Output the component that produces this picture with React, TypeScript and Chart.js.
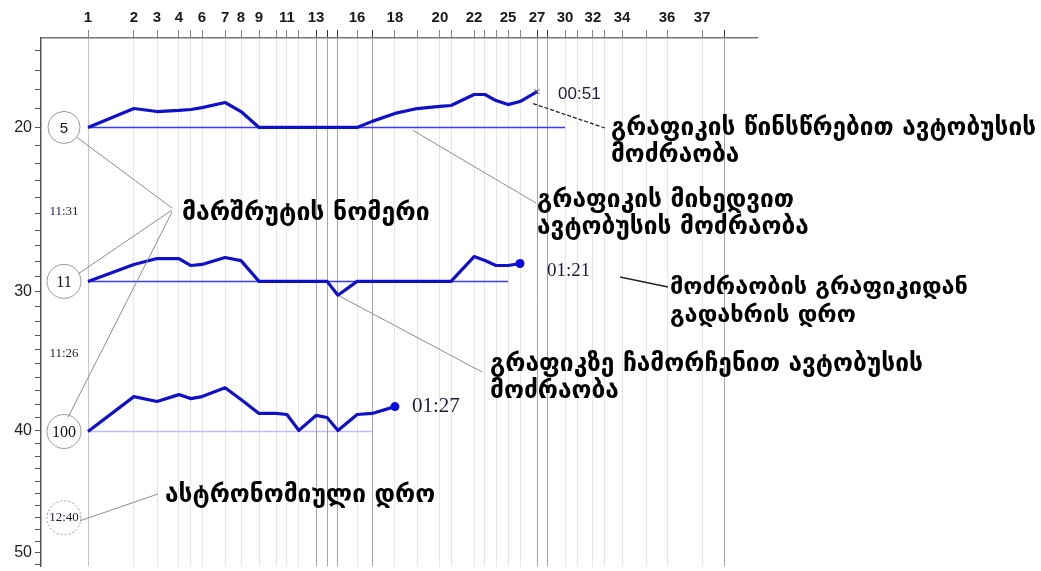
import React, { useEffect, useRef } from 'react';
import { Chart, registerables, LinearScale } from 'chart.js';

Chart.register(...registerables);

// Square-root scale: the diagram's vertical axis grows with sqrt of the value
class SqrtScale extends LinearScale {
  static id = 'sqrt';
  static defaults = LinearScale.defaults;
  getPixelForValue(value: number) {
    if (value === null || value === undefined || isNaN(value)) return NaN;
    const a = Math.sqrt(this.min), b = Math.sqrt(this.max);
    return this.getPixelForDecimal((Math.sqrt(Math.max(0, value)) - a) / (b - a));
  }
  getValueForPixel(pixel: number) {
    const a = Math.sqrt(this.min), b = Math.sqrt(this.max);
    const s = a + this.getDecimalForPixel(pixel) * (b - a);
    return s * s;
  }
}
Chart.register(SqrtScale);

// ---- data ----
const stopLabels = ['1','2','3','4','','6','7','8','9','','11','','13','','','16','','18','','20','','22','','','25','','27','','30','','32','','34','','36','37',''];
const stopKm = [0,1.53,2.30,3.03,3.43,3.80,4.57,5.10,5.70,6.27,6.63,7.03,7.60,7.97,8.33,8.97,9.47,10.23,10.97,11.73,12.10,12.87,13.23,13.60,14.00,14.40,14.97,15.30,15.90,16.30,16.83,17.23,17.80,18.60,19.30,20.47,21.20];
const darkStops = [12, 13, 14, 16, 26, 27, 36];

const yMinorTicks = [16,17,18,19,20,21,22,23,24,25,26,27,28,29,30,31,32,33,34,35,36,37,38,39,40,41,42,43,44,45,46,47,48,49,50,51];
const yLabelValues = [20, 30, 40, 50];

const routeNames = ['5', '11', '100'];
const route5Actual = [20.00,18.98,19.14,19.08,19.03,18.93,18.66,19.14,20.00,20.00,20.00,20.00,20.00,20.00,20.00,20.00,19.67,19.24,18.98,18.87,18.82,18.24,18.24,18.56,18.77,18.61,18.09];
const route11Actual = [29.30,28.19,27.81,27.81,28.26,28.19,27.74,27.94,29.30,29.30,29.30,29.30,29.30,29.30,30.23,29.30,29.30,29.30,29.30,29.30,29.30,27.68,27.94,28.26,28.26,28.13];
const route100Actual = [40.07,37.42,37.79,37.27,37.57,37.42,36.76,37.64,38.69,38.69,38.77,39.99,38.84,39.00,39.99,38.77,38.69,38.17];
const planLevel = [20.00, 29.30, 40.07];
const planStartStop = [0, 0, 0];
const planEndStop = [28, 24, 16];
const deviationLabels = ['00:51', '01:21', '01:27'];
const sideTimes = ['11:31', '11:26'];
const sideTimeLevels = [24.88, 34.29];
const astroTime = '12:40';
const astroTimeLevel = 47.03;

const actualSeries = [route5Actual, route11Actual, route100Actual];

const LINE_BLUE = '#1010c8';

const annotationPlugin = {
  id: 'busAnnotations',
  afterDraw(chart: any) {
    const ctx = chart.ctx as CanvasRenderingContext2D;
    const xs = chart.scales.x, ys = chart.scales.y;
    ctx.save();

    const line = (x1: number, y1: number, x2: number, y2: number, color: string, w = 1, dash: number[] = []) => {
      ctx.beginPath();
      ctx.setLineDash(dash);
      ctx.strokeStyle = color;
      ctx.lineWidth = w;
      ctx.moveTo(x1, y1);
      ctx.lineTo(x2, y2);
      ctx.stroke();
      ctx.setLineDash([]);
    };
    const circle = (cx: number, cy: number, r: number, dash: number[] = []) => {
      ctx.beginPath();
      ctx.setLineDash(dash);
      ctx.strokeStyle = '#9a9a9a';
      ctx.lineWidth = 1;
      ctx.arc(cx, cy, r, 0, Math.PI * 2);
      ctx.stroke();
      ctx.setLineDash([]);
    };
    const text = (t: string, x: number, y: number, font: string, color = '#1b1b3a', align: CanvasTextAlign = 'left') => {
      ctx.font = font;
      ctx.fillStyle = color;
      ctx.textAlign = align;
      ctx.textBaseline = 'middle';
      ctx.fillText(t, x, y);
    };

    // connectors (under text)
    const gray = '#8c8c8c';
    const c5y = ys.getPixelForValue(planLevel[0]);
    const c11y = ys.getPixelForValue(planLevel[1]);
    const c100y = ys.getPixelForValue(planLevel[2]);
    const astroY = ys.getPixelForValue(astroTimeLevel);
    line(77, c5y + 10, 172, 208, gray);
    line(79, c11y - 8, 172, 210, gray);
    line(68, c100y - 14, 172, 212, gray);
    line(80, astroY + 3, 158, 494, gray);
    line(413, c5y + 3, 536, 203, gray);
    const dipX = xs.getPixelForValue(stopKm[14]);
    const dipY = ys.getPixelForValue(route11Actual[14]);
    line(dipX + 2, dipY + 1, 482, 372, gray);

    // route circles
    const cx = 64;
    circle(cx, c5y, 16);
    circle(cx, c11y, 17);
    circle(cx, c100y, 17);
    circle(cx, astroY, 17, [2, 2]);
    text(routeNames[0], cx, c5y + 1, '15px "Liberation Sans"', '#111', 'center');
    text(routeNames[1], cx, c11y + 1, '16px "Liberation Serif"', '#111', 'center');
    text(routeNames[2], cx, c100y + 1, '16px "Liberation Serif"', '#111', 'center');
    text(astroTime, cx, astroY, '13px "Liberation Serif"', '#1b1b3a', 'center');
    sideTimes.forEach((t, i) => {
      text(t, cx, ys.getPixelForValue(sideTimeLevels[i]), '13px "Liberation Serif"', '#1b1b3a', 'center');
    });

    // end markers and deviation labels
    const last = (i: number) => {
      const arr = actualSeries[i];
      const n = arr.length - 1;
      return { x: xs.getPixelForValue(stopKm[n]), y: ys.getPixelForValue(arr[n]) };
    };
    const e5 = last(0), e11 = last(1), e100 = last(2);
    // small cross at route 5 end
    line(e5.x - 2.5, e5.y - 2.5, e5.x + 2.5, e5.y + 2.5, '#444', 1);
    line(e5.x - 2.5, e5.y + 2.5, e5.x + 2.5, e5.y - 2.5, '#444', 1);
    text(deviationLabels[0], e5.x + 21, e5.y + 3, '17px "Liberation Sans"');
    text(deviationLabels[1], e11.x + 27, e11.y + 7, '19px "Liberation Serif"');
    text(deviationLabels[2], e100.x + 17, e100.y, '21px "Liberation Serif"');

    // dark leader lines
    line(e5.x - 4, e5.y + 12, 605, 128, '#222', 1.3, [4, 2]);
    line(620, 277, 668, 287, '#222', 1.3);

    // Georgian notes
    const notes = [
      { lines: ['მარშრუტის ნომერი'], x: 182, y: 214, w: 248, lh: 27 },
      { lines: ['გრაფიკის წინსწრებით ავტობუსის', 'მოძრაობა'], x: 611, y: 129, w: 425, lh: 27 },
      { lines: ['გრაფიკის მიხედვით', 'ავტობუსის მოძრაობა'], x: 537, y: 201, w: 272, lh: 27 },
      { lines: ['მოძრაობის გრაფიკიდან', 'გადახრის დრო'], x: 670, y: 288, w: 298, lh: 28 },
      { lines: ['გრაფიკზე ჩამორჩენით ავტობუსის', 'მოძრაობა'], x: 490, y: 365, w: 433, lh: 27 },
      { lines: ['ასტრონომიული დრო'], x: 165, y: 496, w: 270, lh: 27 },
    ];
    notes.forEach((n) => {
      ctx.font = 'bold 20px "DejaVu Sans"';
      const longest = Math.max(...n.lines.map((l) => ctx.measureText(l).width));
      const size = Math.max(10, Math.min(30, (20 * n.w) / longest));
      n.lines.forEach((l, i) => {
        text(l, n.x, n.y + i * n.lh, `bold ${size.toFixed(1)}px "DejaVu Sans"`, '#000');
      });
    });

    ctx.restore();
  },
};

export default function App() {
  const ref = useRef<HTMLCanvasElement>(null);
  useEffect(() => {
    const datasets: any[] = [];
    actualSeries.forEach((arr, i) => {
      const n = arr.length - 1;
      datasets.push({
        label: 'actual ' + routeNames[i],
        data: arr.map((v, k) => ({ x: stopKm[k], y: v })),
        borderColor: LINE_BLUE,
        backgroundColor: LINE_BLUE,
        borderWidth: 3.2,
        tension: 0,
        borderJoinStyle: 'round',
        pointRadius: (c: any) => (i > 0 && c.dataIndex === n ? 4.5 : 0),
        pointBackgroundColor: '#0a0ae0',
        pointBorderWidth: 0,
      });
    });
    planLevel.forEach((lvl, i) => {
      datasets.push({
        label: 'plan ' + routeNames[i],
        data: [
          { x: stopKm[planStartStop[i]], y: lvl },
          { x: stopKm[planEndStop[i]], y: lvl },
        ],
        borderColor: i === 2 ? 'rgba(110,110,255,0.45)' : '#3a3aff',
        borderWidth: 1.5,
        pointRadius: 0,
      });
    });

    const chart = new Chart(ref.current as HTMLCanvasElement, {
      type: 'line',
      data: { datasets },
      options: {
        responsive: false,
        animation: false,
        devicePixelRatio: 1,
        events: [],
        layout: { padding: { left: 0, top: 0, right: 284, bottom: 0 } },
        plugins: { legend: { display: false }, tooltip: { enabled: false } },
        scales: {
          x: {
            type: 'linear',
            position: 'top',
            min: -1.567,
            max: 22.3,
            afterFit: (s: any) => { s.height = 38; s.paddingLeft = 0; s.paddingRight = 0; },
            afterBuildTicks: (s: any) => { s.ticks = stopKm.map((v) => ({ value: v })); },
            ticks: {
              autoSkip: false,
              maxRotation: 0,
              padding: 3,
              color: '#1a1a1a',
              font: { family: 'Liberation Sans', size: 15, weight: 'bold' },
              callback: (_v: any, idx: number) => stopLabels[idx],
            },
            grid: {
              drawOnChartArea: true,
              tickLength: 8,
              lineWidth: 1,
              color: (c: any) => darkStops.includes(c.index) ? 'rgba(0,0,0,0.35)' : c.index === 0 ? 'rgba(0,0,0,0.22)' : 'rgba(0,0,0,0.1)',
              tickColor: (c: any) => darkStops.includes(c.index) ? '#333' : '#888',
            },
            border: { display: true, color: '#777', width: 1.5 },
          },
          y: {
            type: 'sqrt' as any,
            position: 'left',
            reverse: true,
            min: 15.41,
            max: 51.2,
            afterFit: (s: any) => { s.width = 41; s.paddingTop = 0; s.paddingBottom = 0; },
            afterBuildTicks: (s: any) => { s.ticks = yMinorTicks.map((v) => ({ value: v })); },
            ticks: {
              autoSkip: false,
              padding: 3,
              color: '#222',
              font: { family: 'Liberation Sans', size: 16 },
              callback: (v: any) => (yLabelValues.includes(Number(v)) ? String(v) : ''),
            },
            grid: {
              drawOnChartArea: false,
              tickLength: 6,
              color: '#555',
            },
            border: { display: true, color: '#555', width: 1.5 },
          },
        },
      } as any,
      plugins: [annotationPlugin],
    });
    return () => chart.destroy();
  }, []);

  return (
    <div style={{ position: 'fixed', left: 0, top: 0, width: 1041, height: 571, background: '#fff' }}>
      <canvas ref={ref} width={1041} height={571} style={{ display: 'block', width: 1041, height: 571 }} />
    </div>
  );
}
